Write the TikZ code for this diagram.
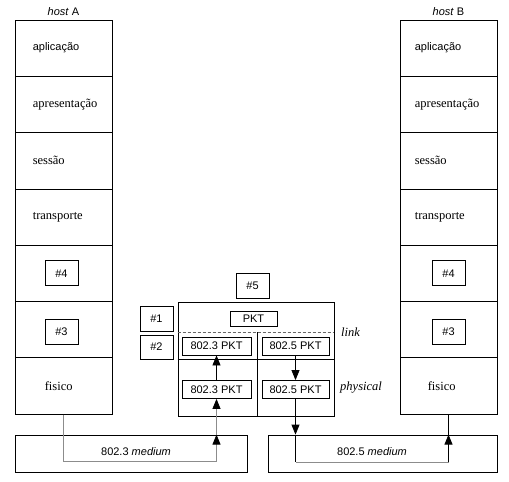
\documentclass[tikz,border=0pt]{standalone}
\usepackage{fontspec}
\setmainfont{Liberation Serif}
\setsansfont{Liberation Sans}
\usetikzlibrary{arrows.meta,calc}
\newcommand\sansfnt{\sffamily\fontsize{11}{13}\selectfont}
\newcommand\serfnt{\rmfamily\fontsize{12.5}{15}\selectfont}
\tikzset{
  box/.style={draw, line width=0.8pt, inner sep=0pt},
  layer/.style={box, minimum width=97pt, minimum height=56.3pt},
  sbox/.style={box, font=\sansfnt},
  numbox/.style={sbox, minimum width=33pt, minimum height=25pt},
  pktbox/.style={sbox, minimum height=18pt},
  stxt/.style={font=\sansfnt, inner sep=0pt},
  rtxt/.style={font=\serfnt, inner sep=0pt, anchor=west},
  arr/.style={-{Triangle[length=10pt,width=8pt,color=black,fill=black]}},
  gline/.style={draw=black!45, line width=0.8pt},
  bline/.style={draw=black, line width=0.8pt},
}
\begin{document}
\begin{tikzpicture}[x=1pt,y=-1pt]
\useasboundingbox (0,0) rectangle (509,482);
% host A
\node[stxt] (hA) at (63.5,12) {\textit{host} A};
\node[layer] (a1) at (63.5,48.15) {};
\node[layer] (a2) at (63.5,104.45) {};
\node[layer] (a3) at (63.5,160.75) {};
\node[layer] (a4) at (63.5,217.05) {};
\node[layer] (a5) at (63.5,273.35) {};
\node[layer] (a6) at (63.5,329.65) {};
\node[layer] (a7) at (63.5,385.95) {};
\node[stxt, anchor=west] (a1t) at ([xshift=18pt]a1.west) {aplicação};
\node[rtxt] (a2t) at ([xshift=18pt]a2.west) {apresentação};
\node[rtxt] (a3t) at ([xshift=18pt]a3.west) {sessão};
\node[rtxt] (a4t) at ([xshift=18pt]a4.west) {transporte};
\node[numbox] (a5n) at ([xshift=-2pt]a5.center) {\#4};
\node[numbox] (a6n) at ([xshift=-2pt,yshift=-2pt]a6.center) {\#3};
\node[rtxt] (a7t) at ([xshift=30pt]a7.west) {fisico};
% host B
\node[stxt] (hB) at (448.5,12) {\textit{host} B};
\node[layer] (b1) at (448.5,48.15) {};
\node[layer] (b2) at (448.5,104.45) {};
\node[layer] (b3) at (448.5,160.75) {};
\node[layer] (b4) at (448.5,217.05) {};
\node[layer] (b5) at (448.5,273.35) {};
\node[layer] (b6) at (448.5,329.65) {};
\node[layer] (b7) at (448.5,385.95) {};
\node[stxt, anchor=west] (b1t) at ([xshift=15pt]b1.west) {aplicação};
\node[rtxt] (b2t) at ([xshift=15pt]b2.west) {apresentação};
\node[rtxt] (b3t) at ([xshift=15pt]b3.west) {sessão};
\node[rtxt] (b4t) at ([xshift=15pt]b4.west) {transporte};
\node[numbox] (b5n) at (b5.center) {\#4};
\node[numbox] (b6n) at ([yshift=-2pt]b6.center) {\#3};
\node[rtxt] (b7t) at ([xshift=28pt]b7.west) {fisico};
% router
\node[numbox] (n5) at (252.5,285.5) {\#5};
\node[numbox] (n1) at (156.5,318.5) {\#1};
\node[numbox, minimum height=24pt] (n2) at (156.5,347) {\#2};
\node[box, minimum width=156pt, minimum height=114pt] (R) at (256,359) {};
\draw[draw=black!60, line width=0.8pt, dash pattern=on 3pt off 2pt] (R.west |- 0,332) -- (R.east |- 0,332);
\draw[bline] (R.west) -- (R.east);
\draw[bline] (257,332) -- (257,416);
\node[sbox, minimum width=47pt, minimum height=15pt] (pkt) at (253.5,319) {PKT};
\node[pktbox, minimum width=69pt] (l1) at (216.5,346) {802.3 PKT};
\node[pktbox, minimum width=67pt] (r1) at (295.5,346) {802.5 PKT};
\node[pktbox, minimum width=69pt] (l2) at (216.5,389.5) {802.3 PKT};
\node[pktbox, minimum width=67pt] (r2) at (295.5,389.5) {802.5 PKT};
\draw[bline, arr] (l2.north) -- (l1.south);
\draw[bline, arr] (r1.south) -- (r2.north);
\node[font=\serfnt\itshape, inner sep=0pt, anchor=west] (lk) at (341,332) {link};
\node[font=\serfnt\itshape, inner sep=0pt, anchor=west] (ph) at (340,388) {physical};
% media
\node[box, minimum width=232pt, minimum height=37pt] (m1) at (131,453.5) {};
\node[box, minimum width=229pt, minimum height=37pt] (m2) at (382.5,453.5) {};
\node[stxt] (m1t) at (136,452) {802.3 \textit{medium}};
\node[stxt] (m2t) at (372,452) {802.5 \textit{medium}};
% connections
\draw[gline, arr] (a7.south) -- (a7.south |- 0,461) -| (l2.south |- m1.north);
\draw[gline, arr] (l2.south |- m1.north) -- (l2.south);
\draw[bline, arr] (r2.south) -- (r2.south |- m2.north);
\draw[bline] (r2.south |- m2.north) -- (r2.south |- 0,462);
\draw[gline] (r2.south |- 0,462) -- (b7.south |- 0,462);
\draw[bline, arr] (b7.south |- 0,462) -- (b7.south |- m2.north);
\draw[bline] (b7.south |- m2.north) -- (b7.south);
\end{tikzpicture}
\end{document}
